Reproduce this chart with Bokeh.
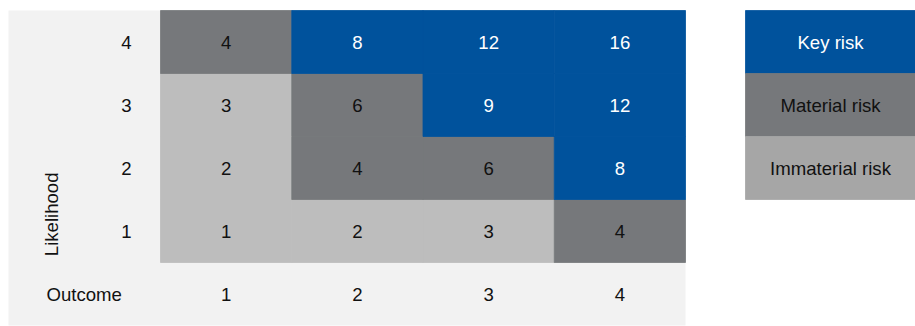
from bokeh.plotting import figure
from bokeh.models import Range1d, ColumnDataSource
from bokeh.core.properties import value
from bokeh.embed import file_html
from bokeh.resources import INLINE
import math

# ---- data ----
outcome = [1, 2, 3, 4]
likelihood = [1, 2, 3, 4]
# risk level of each cell, one list per likelihood row (1 .. 4), columns = outcome 1 .. 4
risk_row_1 = ["Immaterial risk", "Immaterial risk", "Immaterial risk", "Material risk"]
risk_row_2 = ["Immaterial risk", "Material risk", "Material risk", "Key risk"]
risk_row_3 = ["Immaterial risk", "Material risk", "Key risk", "Key risk"]
risk_row_4 = ["Material risk", "Key risk", "Key risk", "Key risk"]
legend_labels = ["Key risk", "Material risk", "Immaterial risk"]
y_title = "Likelihood"
x_title = "Outcome"

# ---- styles ----
cell_colors = {"Key risk": "#00529c", "Material risk": "#76787b", "Immaterial risk": "#bdbdbd"}
legend_colors = {"Key risk": "#00529c", "Material risk": "#76787b", "Immaterial risk": "#a6a6a6"}
text_colors = {"Key risk": "#ffffff", "Material risk": "#111111", "Immaterial risk": "#111111"}
BG = "#f2f2f2"
FONT = value("Liberation Sans")
FS = "18.6px"

rows = [risk_row_1, risk_row_2, risk_row_3, risk_row_4]
cx, cy, cc, ct, ctc = [], [], [], [], []
for li, row in zip(likelihood, rows):
    for oi, lvl in zip(outcome, row):
        cx.append(oi)
        cy.append(li)
        cc.append(cell_colors[lvl])
        ct.append(str(oi * li))
        ctc.append(text_colors[lvl])
cells = ColumnDataSource(dict(x=cx, y=cy, color=cc, text=ct, tcolor=ctc))

W, H = 915, 326
px_x = 131.25
px_y = 63.0
x0 = 0.5 - 160 / px_x
y1 = 4.5 + 10 / px_y
p = figure(width=W, height=H, output_backend="svg", toolbar_location=None,
           x_range=Range1d(x0, x0 + W / px_x), y_range=Range1d(y1 - H / px_y, y1),
           min_border=0, outline_line_color=None, background_fill_color="white",
           border_fill_color="white")
p.axis.visible = False
p.grid.visible = False

# grey panel
p.quad(left=[x0 + 8 / px_x], right=[max(outcome) + 0.5], bottom=[min(likelihood) - 1.5],
       top=[max(likelihood) + 0.5], fill_color=BG, line_color=None)

# cells
p.rect(x="x", y="y", width=1, height=1, source=cells, fill_color="color",
       line_color="color", line_width=0.8)
p.text(x="x", y="y", text="text", source=cells, text_color="tcolor",
       text_align="center", text_baseline="middle", text_font=FONT, text_font_size=FS)

# likelihood tick labels
lab_x = x0 + 126 / px_x
p.text(x=[lab_x] * len(likelihood), y=likelihood, text=[str(v) for v in likelihood],
       text_align="center", text_baseline="middle", text_font=FONT, text_font_size=FS,
       text_color="#111111")
# outcome tick labels
p.text(x=outcome, y=[0] * len(outcome), text=[str(v) for v in outcome],
       text_align="center", text_baseline="middle", text_font=FONT, text_font_size=FS,
       text_color="#111111")
# titles
p.text(x=[x0 + 46 / px_x], y=[0], text=[x_title], text_align="left", text_baseline="middle",
       text_font=FONT, text_font_size=FS, text_color="#111111")
p.text(x=[x0 + 51 / px_x], y=[0.6], text=[y_title], angle=math.pi / 2, text_align="left",
       text_baseline="middle", text_font=FONT, text_font_size=FS, text_color="#111111")

# legend boxes
lg_left = x0 + 745 / px_x
lg_right = x0 + W / px_x
lg_x = (lg_left + lg_right) / 2
lg_y = [max(likelihood) - i for i in range(len(legend_labels))]
p.rect(x=[lg_x] * len(legend_labels), y=lg_y, width=lg_right - lg_left, height=1,
       fill_color=[legend_colors[l] for l in legend_labels],
       line_color=[legend_colors[l] for l in legend_labels], line_width=0.8)
p.text(x=[lg_x] * len(legend_labels), y=lg_y, text=legend_labels,
       text_color=[text_colors[l] for l in legend_labels], text_align="center",
       text_baseline="middle", text_font=FONT, text_font_size=FS)

open("out.html", "w").write(file_html(p, INLINE))
